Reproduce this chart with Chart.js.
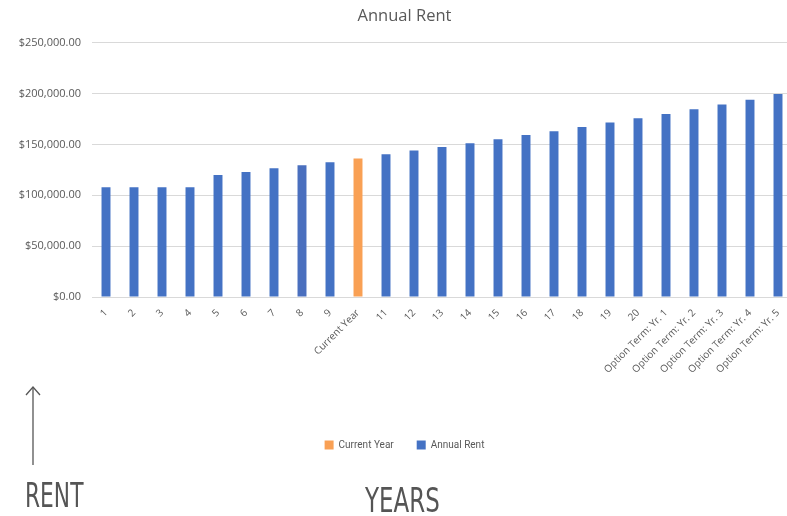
<!DOCTYPE html>
<html>
<head>
<meta charset="utf-8">
<script src="https://cdn.jsdelivr.net/npm/chart.js@4"></script>
<style>
  html, body { margin: 0; padding: 0; background: #fff; width: 787px; height: 516px; overflow: hidden; }
  #wrap { position: absolute; left: 0; top: 0; width: 816px; height: 516px; }
  .big { position: absolute; font-family: 'DejaVu Sans', sans-serif; color: #555; font-size: 34px; line-height: 1; transform-origin: left top; }
  #arrow { position: absolute; left: 0; top: 0; }
</style>
</head>
<body>
<div id="wrap"><canvas id="c" width="816" height="516"></canvas></div>
<svg id="arrow" width="60" height="480">
  <line x1="33" y1="387" x2="33" y2="465" stroke="#555" stroke-width="1.3"/>
  <polyline points="26,395 33,387 40,395" fill="none" stroke="#555" stroke-width="1.3"/>
</svg>
<div class="big" style="left:25px; top:478px; transform: scaleX(0.64);">RENT</div>
<div class="big" style="left:365px; top:483px; transform: scaleX(0.675);">YEARS</div>
<script>
const categories = ['1','2','3','4','5','6','7','8','9','Current Year','11','12','13','14','15','16','17','18','19','20',
  'Option Term: Yr. 1','Option Term: Yr. 2','Option Term: Yr. 3','Option Term: Yr. 4','Option Term: Yr. 5'];
const annualRent = [108000,108000,108000,108000,120000,123000,126500,129500,132500,null,140500,144000,147600,151200,155100,159400,163000,167200,171500,175800,180000,184600,189200,194100,199700];
const currentYear = [null,null,null,null,null,null,null,null,null,136300,null,null,null,null,null,null,null,null,null,null,null,null,null,null,null];
const yTicks = [0,50000,100000,150000,200000,250000];

const blue = '#4472C4', orange = '#F9A054';
const blueColors = categories.map((c,i) => i === 7 ? '#4A6FBE' : blue);

new Chart(document.getElementById('c'), {
  type: 'bar',
  data: {
    labels: categories,
    datasets: [
      { label: 'Current Year', data: currentYear, backgroundColor: orange, barPercentage: 0.4, categoryPercentage: 0.8 },
      { label: 'Annual Rent', data: annualRent, backgroundColor: blueColors, barPercentage: 0.4, categoryPercentage: 0.8 }
    ]
  },
  options: {
    responsive: false,
    animation: false,
    layout: { padding: { left: 17, right: 24, top: 0, bottom: 56 } },
    plugins: {
      title: { display: true, text: 'Annual Rent', color: '#595959', font: { family: 'Open Sans', size: 16.5, weight: 'normal' }, padding: { top: 6, bottom: 17 } },
      legend: {
        position: 'bottom',
        labels: {
          color: '#595959', boxWidth: 9, boxHeight: 9, padding: 23,
          font: { family: 'Roboto', size: 10 },
          generateLabels: (chart) => chart.data.datasets.map((ds, i) => ({
            text: ds.label, fillStyle: i === 0 ? orange : blue, strokeStyle: 'transparent', lineWidth: 0, datasetIndex: i, fontColor: '#595959'
          }))
        }
      },
      tooltip: { enabled: false }
    },
    scales: {
      x: {
        stacked: true,
        grid: { display: false },
        border: { color: '#d9d9d9' },
        ticks: { color: '#595959', font: { family: 'Open Sans', size: 10 }, minRotation: 45, maxRotation: 45, autoSkip: false, padding: 2 },
        afterFit: (s) => { s.height = 120; }
      },
      y: {
        stacked: true,
        min: 0, max: 250000,
        afterBuildTicks: (s) => { s.ticks = yTicks.map(v => ({ value: v })); },
        afterFit: (s) => { s.width = 75; },
        grid: { color: '#d9d9d9', drawTicks: false },
        border: { display: false },
        ticks: {
          color: '#595959', padding: 11,
          font: { family: 'Open Sans', size: 11 },
          callback: (v) => '$' + Number(v).toLocaleString('en-US', { minimumFractionDigits: 2, maximumFractionDigits: 2 })
        }
      }
    }
  }
});
</script>
</body>
</html>
